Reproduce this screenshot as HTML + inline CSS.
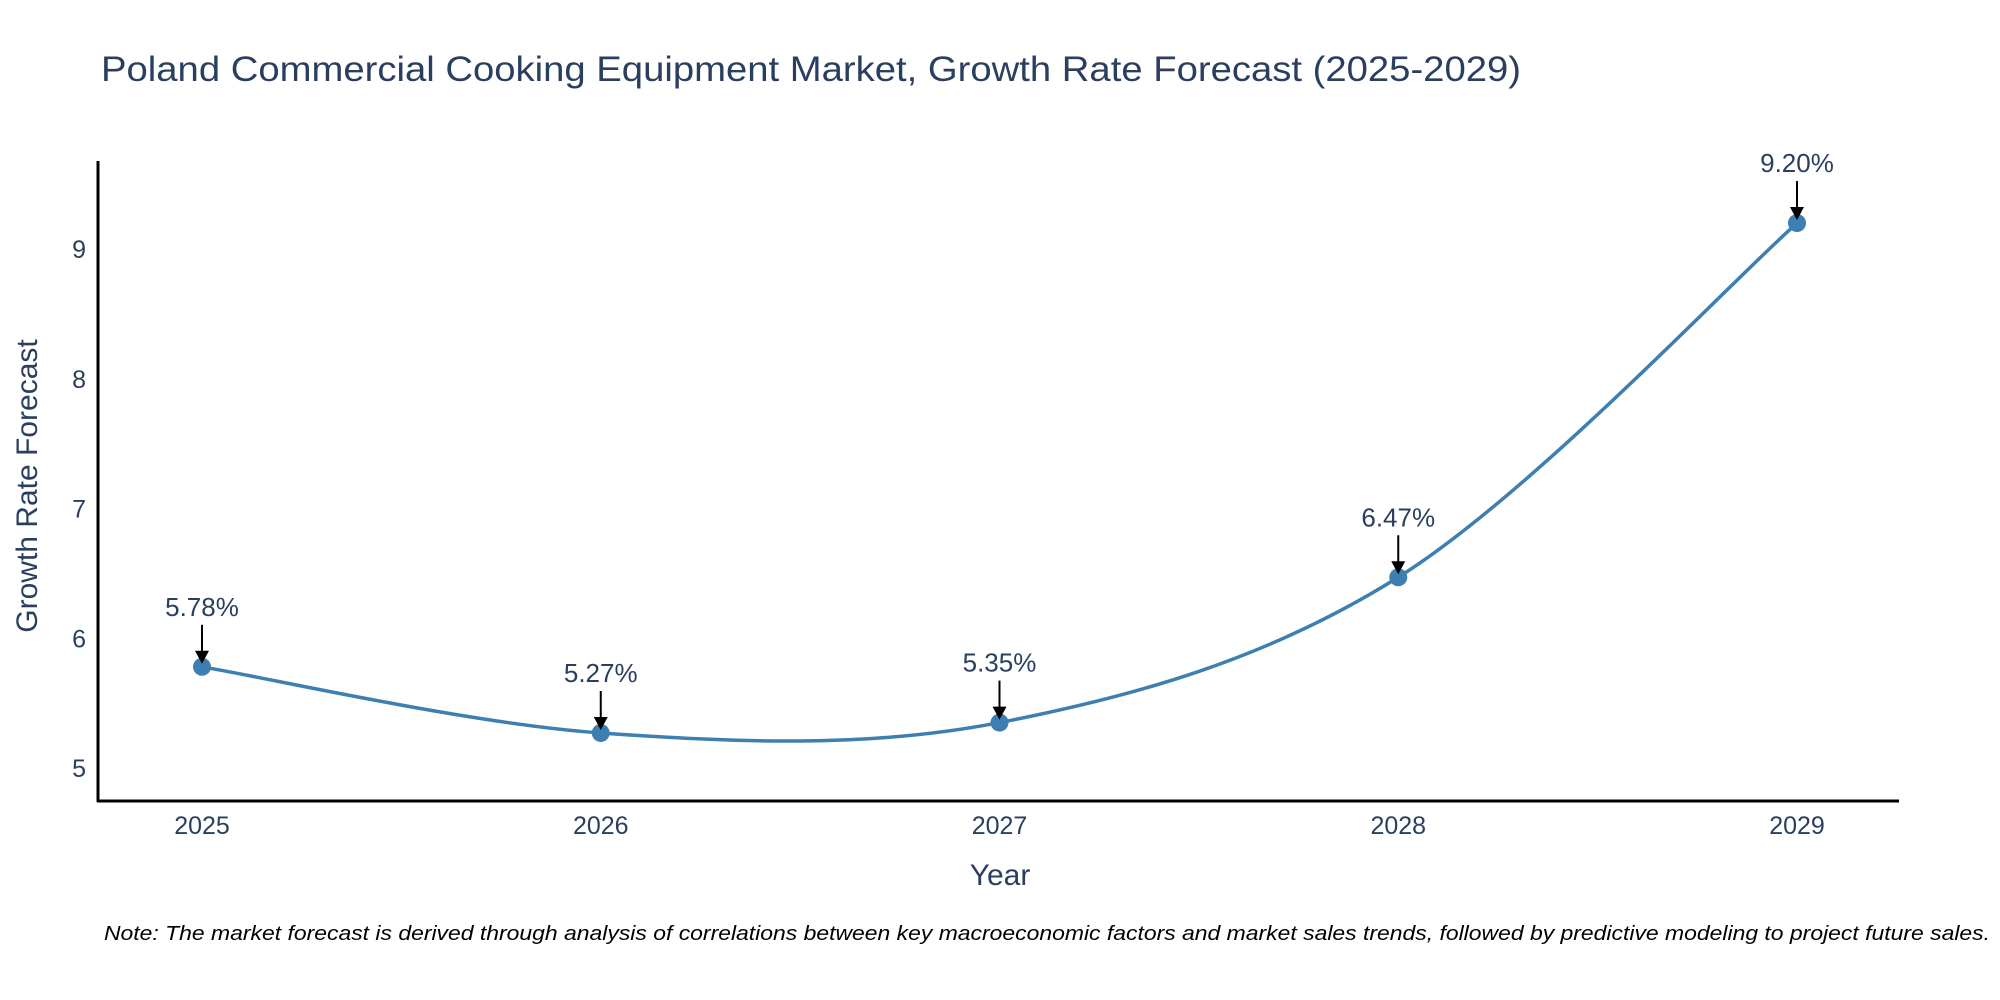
<!DOCTYPE html>
<html><head><meta charset="utf-8"><style>body{margin:0;background:#fff}svg{display:block;font-family:"Liberation Sans","DejaVu Sans",sans-serif}</style></head>
<body>
<svg id="chart" width="2000" height="1000" viewBox="0 0 2000 1000">
<text x="101" y="81" font-size="35" fill="#2a3f5f" textLength="1420" lengthAdjust="spacingAndGlyphs">Poland Commercial Cooking Equipment Market, Growth Rate Forecast (2025-2029)</text>
<g id="axes"></g>
<g id="series"></g>
<text x="37" y="486" font-size="30" fill="#2a3f5f" text-anchor="middle" transform="rotate(-90 37 486)">Growth Rate Forecast</text>
<text x="1000" y="885" font-size="30" fill="#2a3f5f" text-anchor="middle">Year</text>
<text x="104" y="940" font-size="20" font-style="italic" fill="#000" textLength="1886" lengthAdjust="spacingAndGlyphs">Note: The market forecast is derived through analysis of correlations between key macroeconomic factors and market sales trends, followed by predictive modeling to project future sales.</text>
</svg>
<script>
const years = ["2025","2026","2027","2028","2029"];
const growth = [5.78, 5.27, 5.35, 6.47, 9.20];
const labels = ["5.78%","5.27%","5.35%","6.47%","9.20%"];
const yTicks = [5,6,7,8,9];

const NS="http://www.w3.org/2000/svg";
const xS = i => 202 + i*398.75;
const yS = v => 768 - (v-5)*129.75;
function mk(tag, attrs, parent){const e=document.createElementNS(NS,tag);for(const k in attrs)e.setAttribute(k,attrs[k]);parent.appendChild(e);return e;}
const axes=document.getElementById('axes'), ser=document.getElementById('series');

let e=mk('line',{x1:98,y1:161,x2:98,y2:802,stroke:'#000','stroke-width':3},axes);


e=mk('line',{x1:97,y1:801,x2:1899,y2:801,stroke:'#000','stroke-width':3},axes);


yTicks.forEach(t=>{
  const tx=mk('text',{x:86,y:yS(t)+9,'font-size':25,fill:'#2a3f5f','text-anchor':'end'},axes);
  tx.textContent=t;
  
  
});
years.forEach((y,i)=>{
  const tx=mk('text',{x:xS(i),y:834,'font-size':25,fill:'#2a3f5f','text-anchor':'middle'},axes);
  tx.textContent=y;
  
  
});
const pts=growth.map((v,i)=>[xS(i),yS(v)]);
let d=`M${pts[0][0]},${pts[0][1]}`;
const s=1/6;
for(let i=0;i<pts.length-1;i++){
  const p0=pts[Math.max(i-1,0)],p1=pts[i],p2=pts[i+1],p3=pts[Math.min(i+2,pts.length-1)];
  d+=` C${p1[0]+(p2[0]-p0[0])*s},${p1[1]+(p2[1]-p0[1])*s} ${p2[0]-(p3[0]-p1[0])*s},${p2[1]-(p3[1]-p1[1])*s} ${p2[0]},${p2[1]}`;
}
e=mk('path',{d:d,fill:'none',stroke:'#3d7fb0','stroke-width':3.5},ser);


pts.forEach((p,i)=>{
  const c=mk('circle',{cx:p[0],cy:p[1],r:9,fill:'#3d7fb0'},ser);
  
  
  const a=mk('line',{x1:p[0],y1:p[1]-42,x2:p[0],y2:p[1]-14,stroke:'#000','stroke-width':2},ser);
  
  
  const h=mk('polygon',{points:`${p[0]-7},${p[1]-16} ${p[0]+7},${p[1]-16} ${p[0]},${p[1]-3}`,fill:'#000'},ser);
  
  
  const t=mk('text',{x:p[0],y:p[1]-51,'font-size':26,fill:'#2a3f5f','text-anchor':'middle'},ser);
  t.textContent=labels[i];
  
  
});
</script>
</body></html>
